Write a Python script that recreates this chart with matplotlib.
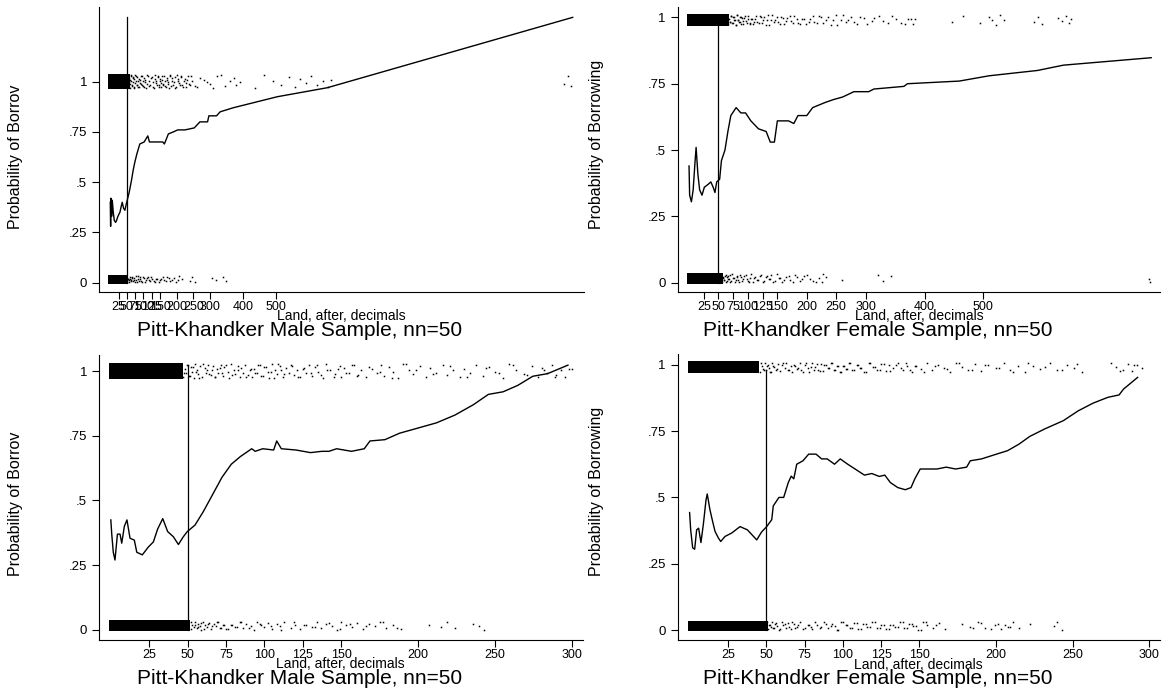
import matplotlib
matplotlib.use("Agg")
from matplotlib import pyplot as plt

plt.rcParams['font.family'] = ['Liberation Sans', 'DejaVu Sans']

W, H = 1163, 692

# ---------------- data ----------------
# top-left: male sample, full land range
tl_x = [0, 1, 2, 4, 6, 9, 12, 16, 19, 23, 29, 33, 36, 40, 44, 48, 51, 57, 64, 69,
        74, 80, 89, 102, 113, 118, 125, 140, 158, 163, 175, 190, 203, 225, 253, 270,
        293, 297, 320, 331, 370, 503, 654, 1393]
tl_y = [0.40, 0.28, 0.42, 0.33, 0.41, 0.35, 0.31, 0.30, 0.31, 0.33, 0.35, 0.38, 0.40,
        0.37, 0.36, 0.39, 0.41, 0.45, 0.51, 0.56, 0.60, 0.64, 0.69, 0.70, 0.73, 0.70,
        0.70, 0.70, 0.70, 0.69, 0.74, 0.75, 0.76, 0.76, 0.77, 0.80, 0.80, 0.83, 0.83,
        0.85, 0.87, 0.925, 0.97, 1.32]
tl_ones_dense = [0, 6, 12, 18, 24, 30, 36, 42, 48, 54]
tl_ones = [56, 58, 60, 62, 64, 67, 69, 71, 74, 76, 79, 81, 84, 87, 90, 93, 96, 99, 102,
           106, 110, 114, 118, 123, 128, 133, 136, 138, 141, 144, 147, 150, 154, 157,
           160, 164, 168, 171, 175, 179, 183, 187, 192, 196, 201, 205, 210, 214, 219,
           224, 229, 235, 240, 246, 262, 281, 300, 322, 345, 372, 392, 437, 462, 489,
           515, 538, 556, 572, 590, 605, 622, 641, 656, 665, 1366, 1380, 1388,
           55, 57, 59, 61, 63, 65, 68, 70, 72, 75, 77, 80, 83, 86, 89, 92, 95, 98, 101,
           104, 108, 112, 116, 120, 125, 130, 135, 139, 143, 146, 149, 152, 156, 159,
           162, 166, 170, 173, 177, 181, 185, 190, 194, 199, 203, 208, 212, 217, 222,
           227, 232, 238, 244, 255, 270, 290, 310, 333, 360, 380]
tl_zeros_dense = [0, 6, 12, 18, 24, 30, 36, 42, 48]
tl_zeros = [51, 54, 57, 60, 63, 66, 70, 74, 78, 82, 86, 91, 96, 101, 107, 113, 120, 127,
            134, 142, 150, 158, 167, 176, 186, 197, 208, 215, 240, 247, 255, 305, 318,
            340, 350,
            52, 55, 58, 61, 65, 68, 72, 76, 80, 84, 89, 94, 99, 104, 110, 117, 124, 131,
            138, 146, 154, 162, 172, 181, 192, 203]

# top-right: female sample, full land range
tr_x = [0, 1, 4, 7, 10, 12, 15, 18, 22, 26, 32, 37, 41, 44, 47, 52, 55, 61, 66, 71,
        80, 88, 96, 105, 118, 131, 138, 145, 150, 169, 178, 185, 200, 210, 232, 245,
        261, 280, 305, 314, 365, 371, 459, 510, 592, 636, 785]
tr_y = [0.44, 0.33, 0.305, 0.35, 0.45, 0.51, 0.41, 0.35, 0.33, 0.36, 0.37, 0.38, 0.36,
        0.34, 0.38, 0.39, 0.46, 0.50, 0.57, 0.63, 0.66, 0.64, 0.64, 0.61, 0.58, 0.57,
        0.53, 0.53, 0.61, 0.61, 0.60, 0.63, 0.63, 0.66, 0.68, 0.69, 0.70, 0.72, 0.72,
        0.73, 0.74, 0.75, 0.76, 0.78, 0.80, 0.82, 0.848]
tr_ones_dense = [0, 4, 8, 12, 16, 20, 24, 28, 32, 36, 40, 44, 48, 52, 56, 60, 64]
tr_ones = [66, 68, 70, 72, 74, 76, 78, 80, 82, 84, 86, 88, 91, 94, 97, 100, 103, 106,
           109, 112, 116, 120, 124, 128, 132, 136, 141, 146, 151, 156, 161, 167, 173,
           179, 185, 192, 199, 206, 213, 220, 228, 236, 244, 252, 261, 270, 280, 291,
           302, 315, 330, 345, 360, 372, 380, 384, 447, 466, 494, 509, 515, 522, 528,
           535, 586, 592, 599, 627, 633, 640, 645, 649,
           65, 67, 69, 71, 73, 75, 77, 79, 81, 83, 85, 87, 89, 90, 92, 95, 98, 101, 104,
           107, 110, 114, 118, 122, 126, 130, 134, 139, 144, 149, 154, 159, 165, 171,
           177, 183, 189, 196, 203, 210, 217, 225, 233, 241, 249, 258, 266, 275, 286,
           297, 310, 322, 338, 352, 366, 377]
tr_zeros_dense = [0, 4, 8, 12, 16, 20, 24, 28, 32, 36, 40, 44, 48, 52, 55]
tr_zeros = [56, 58, 60, 62, 64, 66, 68, 70, 73, 76, 79, 82, 85, 88, 92, 96, 100, 104,
            108, 112, 117, 122, 127, 132, 137, 143, 149, 155, 162, 169, 176, 184, 192,
            200, 210, 220, 226, 232, 260, 321, 330, 343, 782, 783,
            55, 57, 59, 61, 63, 65, 67, 69, 72, 75, 78, 81, 84, 87, 90, 94, 98, 102,
            106, 110, 115, 120, 125, 130, 135, 140, 146, 152, 158, 165, 172, 180, 188,
            196, 205, 215, 228]

# bottom-left: male sample, land up to 300
bl_x = [0, 0.6, 1.6, 2.7, 4.3, 6, 7.1, 8.8, 10.5, 12.5, 15.3, 16.9, 20.5, 24.4, 27.7,
        30.5, 33.8, 37, 40.7, 44, 47.2, 49.8, 54.8, 60.2, 66, 72.4, 78.4, 84.4, 91.7,
        94, 98.9, 106, 108, 111, 120.6, 130, 137.4, 142, 147, 156.7, 165, 168.7, 178.4,
        188, 200, 212, 224, 236, 245.8, 255.4, 265, 274.7, 284.3, 297.6]
bl_y = [0.425, 0.37, 0.30, 0.27, 0.37, 0.37, 0.335, 0.40, 0.425, 0.354, 0.347, 0.30,
        0.29, 0.32, 0.34, 0.39, 0.43, 0.38, 0.36, 0.33, 0.36, 0.38, 0.405, 0.457, 0.52,
        0.59, 0.64, 0.67, 0.70, 0.69, 0.70, 0.695, 0.73, 0.70, 0.695, 0.685, 0.69, 0.69,
        0.70, 0.69, 0.70, 0.73, 0.735, 0.76, 0.78, 0.80, 0.83, 0.87, 0.91, 0.92, 0.945,
        0.98, 0.99, 1.023]
bl_ones_dense = [0, 2, 4, 6, 8, 10, 12, 14, 16, 18, 20, 22, 24, 26, 28, 30, 32, 34, 36,
                 38, 40, 42, 44, 46]
bl_ones = [47, 48, 49, 50, 51, 52, 53, 54, 55, 56, 57, 58, 59.5, 61, 62, 63.5, 65, 66,
           67.5, 69, 70, 71.5, 73, 74, 76, 77, 78.5, 80, 81, 82.5, 84, 85, 86, 87.5, 89,
           90.5, 92, 93, 95, 97, 98, 100, 102, 103, 105, 107, 108, 110, 112, 114, 116,
           117, 119, 121, 123, 125, 127, 129, 131, 133, 135, 138, 140, 143, 146, 149,
           150, 152, 155, 158, 161, 163, 166, 170, 173, 176, 178, 181, 184, 187, 190,
           194, 197, 201, 205, 208, 212, 216, 219, 223, 227, 230, 234, 238, 242, 246,
           250, 255, 259, 264, 269, 274, 278, 281, 284, 287, 290, 293, 296, 300,
           47.5, 49.5, 51.5, 53.5, 55.5, 57.5, 60, 62.5, 64, 66.5, 68, 71, 72.5, 75, 79,
           83, 88, 91, 94, 96, 99, 101, 104, 106, 109, 111, 113, 118, 122, 126, 130,
           134, 137, 141, 145, 148, 153, 157, 160, 168, 175, 183, 192, 199, 210, 221,
           232, 244, 253, 262, 271, 282, 289, 298]
bl_zeros_dense = [0, 2, 4, 6, 8, 10, 12, 14, 16, 18, 20, 22, 24, 26, 28, 30, 32, 34, 36,
                  38, 40, 42, 44, 46, 48, 50]
bl_zeros = [52, 53, 54, 55, 56, 57, 58, 59, 60, 61, 62.5, 64, 65, 67, 68.5, 70, 72, 74,
            76, 79, 82, 84, 86, 88, 91, 93, 95, 98, 100, 102, 105, 108, 110, 113, 117,
            120, 123, 127, 131, 134, 137, 140, 144, 147, 150, 153, 157, 160, 164, 168,
            172, 175, 179, 184, 189, 207, 215, 219, 224, 236, 240, 243,
            52.5, 54.5, 56.5, 58.5, 60.5, 63, 66, 69, 71, 73, 75, 78, 81, 85, 90, 97,
            104, 111, 119, 126, 133, 142, 149, 156, 166, 177, 186]

# bottom-right: female sample, land up to 300
br_x = [0, 0.7, 2, 3.3, 4.6, 5.9, 7.4, 9, 10.7, 11.5, 13.3, 15, 16.6, 18.8, 20.3, 23.1,
        27.5, 32.9, 37.7, 43.8, 47, 50.3, 53.6, 54.6, 58.3, 61.4, 64.4, 66.3, 68, 69.9,
        74, 77.7, 82.5, 86.2, 89.8, 94.6, 98.3, 103.2, 108, 114.1, 118.9, 123.8, 127.4,
        131, 135.9, 140.8, 144.5, 146.9, 150.5, 161.4, 167.5, 173.6, 180.8, 183.2,
        190.5, 200.3, 207.5, 214.8, 222.1, 231.8, 243.9, 253.6, 263.3, 273, 280.3,
        283.2, 292.4]
br_y = [0.443, 0.378, 0.31, 0.305, 0.378, 0.384, 0.33, 0.40, 0.49, 0.513, 0.453, 0.41,
        0.372, 0.347, 0.334, 0.353, 0.366, 0.39, 0.378, 0.34, 0.37, 0.39, 0.416, 0.468,
        0.50, 0.50, 0.556, 0.58, 0.57, 0.625, 0.638, 0.663, 0.663, 0.645, 0.645, 0.625,
        0.645, 0.625, 0.607, 0.584, 0.59, 0.579, 0.584, 0.556, 0.537, 0.529, 0.537,
        0.569, 0.607, 0.607, 0.614, 0.607, 0.614, 0.638, 0.645, 0.663, 0.676, 0.70,
        0.73, 0.758, 0.789, 0.826, 0.855, 0.877, 0.886, 0.908, 0.952]
br_ones_dense = [0, 2, 4, 6, 8, 10, 12, 14, 16, 18, 20, 22, 24, 26, 28, 30, 32, 34, 36,
                 38, 40, 42, 44]
br_ones = [46, 47, 48, 49, 50, 51, 52, 53, 54, 55, 56.5, 58, 59, 60.5, 62, 63, 64.5, 66,
           67, 69, 70, 72, 73, 75, 77, 78, 80, 82, 84, 86, 87, 89, 91, 93, 95, 97, 99,
           101, 103, 105, 107, 110, 112, 115, 117, 120, 122, 125, 128, 130, 133, 136,
           139, 142, 145, 148, 151, 155, 158, 162, 166, 170, 174, 178, 182, 186, 190,
           195, 200, 205, 209, 214, 219, 224, 229, 235, 240, 246, 251, 256, 275, 278,
           283, 286, 289, 292, 295,
           46.5, 48.5, 50.5, 52.5, 54.5, 57, 61, 65, 68, 71, 74, 76, 79, 81, 83, 85, 88,
           90, 92, 94, 96, 98, 100, 102, 104, 106, 109, 111, 114, 118, 121, 124, 127,
           131, 135, 138, 141, 144, 147, 153, 160, 168, 176, 184, 193, 202, 211, 221,
           232, 243, 253, 281, 290]
br_zeros_dense = [0, 2, 4, 6, 8, 10, 12, 14, 16, 18, 20, 22, 24, 26, 28, 30, 32, 34, 36,
                  38, 40, 42, 44, 46, 48, 50]
br_zeros = [51, 52, 53, 54, 55, 56, 57, 58.5, 60, 61, 63, 64.5, 66, 68, 70, 72, 75, 78,
            80, 83, 86, 88, 90, 93, 95, 97, 100, 102, 105, 107, 110, 113, 116, 119, 122,
            125, 128, 131, 134, 137, 140, 143, 146, 149, 152, 155, 159, 163, 167, 178,
            183, 188, 193, 199, 203, 206, 208, 211, 215, 222, 238, 243,
            50.5, 52.5, 54.5, 56.5, 59, 62, 65, 67, 69, 71, 74, 77, 79, 82, 85, 89, 92,
            96, 99, 103, 106, 109, 112, 115, 118, 121, 124, 127, 130, 133, 136, 139, 142,
            145, 148, 151, 154, 161, 185, 190, 197, 201, 209, 240]

# share of the jitter band for each rug point (cycled)
jit = [0.10, 0.62, 0.35, 0.88, 0.21, 0.74, 0.47, 0.03, 0.95, 0.55, 0.29, 0.81, 0.14,
       0.68, 0.40, 0.92, 0.25, 0.58]
dense_levels = [0.12, 0.37, 0.62, 0.87]

top_ticks = [25, 50, 75, 100, 125, 150, 200, 250, 300, 400, 500]
bottom_ticks = [25, 50, 75, 100, 125, 150, 200, 250, 300]
y_ticks = [0, 0.25, 0.5, 0.75, 1]
y_ticklabels = ['0', '.25', '.5', '.75', '1']

fig = plt.figure(figsize=(W / 100, H / 100), dpi=100)


def rug(ax, dense, sparse, lo, hi):
    for lev in dense_levels:
        ax.plot(dense, [lo + lev * (hi - lo)] * len(dense), 's', color='black',
                markersize=2.3, markeredgewidth=0)
    ys = [lo + jit[i % len(jit)] * (hi - lo) for i in range(len(sparse))]
    ax.plot(sparse, ys, 's', color='black', markersize=1.1, markeredgewidth=0)


def panel(box, xlim, ylim, xticks, curve_x, curve_y, ones_d, ones, zeros_d, zeros,
          ones_band, vline_top, ylab, title, ylab_pos, title_pos, xlab_pos):
    left, right, top, bottom = box
    ax = fig.add_axes([left / W, 1 - bottom / H, (right - left) / W, (bottom - top) / H])
    rug(ax, ones_d, ones, ones_band[0], ones_band[1])
    rug(ax, zeros_d, zeros, 0.0, 0.033)
    ax.plot(curve_x, curve_y, color='black', linewidth=1.0)
    ax.plot([50, 50], [0, vline_top], color='black', linewidth=0.9)
    ax.set_xlim(xlim)
    ax.set_ylim(ylim)
    ax.set_xticks(xticks)
    ax.set_xticklabels([str(t) for t in xticks])
    ax.set_yticks(y_ticks)
    ax.set_yticklabels(y_ticklabels)
    for s in ['top', 'right']:
        ax.spines[s].set_visible(False)
    for s in ['left', 'bottom']:
        ax.spines[s].set_linewidth(0.8)
    ax.tick_params(axis='x', direction='out', length=5, width=0.8, labelsize=9, pad=1.5)
    ax.tick_params(axis='y', direction='out', length=5, width=0.8, labelsize=9.5, pad=3.5)
    fig.text(ylab_pos[0] / W, 1 - ylab_pos[1] / H, ylab, rotation=90, ha='center',
             va='bottom', fontsize=11.5)
    fig.text(xlab_pos[0] / W, 1 - xlab_pos[1] / H, 'Land, after, decimals',
             ha='center', va='center', fontsize=10)
    fig.text(title_pos[0] / W, 1 - title_pos[1] / H, title, ha='center', va='center',
             fontsize=15)
    return ax


panel((99, 584, 7.3, 292.3), (-34, 1427), (-0.048, 1.370), top_ticks, tl_x, tl_y,
      tl_ones_dense, tl_ones, tl_zeros_dense, tl_zeros, (0.965, 1.035), 1.32,
      'Probability of Borrov', 'Pitt-Khandker Male Sample, nn=50',
      (16, 229), (300, 331), (341, 316.5))
panel((677.5, 1160, 7.3, 292.3), (-19.6, 800), (-0.036, 1.038), top_ticks, tr_x, tr_y,
      tr_ones_dense, tr_ones, tr_zeros_dense, tr_zeros, (0.97, 1.01), 0.99,
      'Probability of Borrowing', 'Pitt-Khandker Female Sample, nn=50',
      (597, 229), (878, 331), (919, 316.5))
panel((99, 583, 355.3, 640), (-7.7, 307.4), (-0.039, 1.061), bottom_ticks, bl_x, bl_y,
      bl_ones_dense, bl_ones, bl_zeros_dense, bl_zeros, (0.97, 1.03), 1.02,
      'Probability of Borrov', 'Pitt-Khandker Male Sample, nn=50',
      (16, 576), (300, 678), (340, 664))
panel((677.5, 1160, 354.3, 640), (-7.9, 307), (-0.037, 1.039), bottom_ticks, br_x, br_y,
      br_ones_dense, br_ones, br_zeros_dense, br_zeros, (0.97, 1.01), 0.98,
      'Probability of Borrowing', 'Pitt-Khandker Female Sample, nn=50',
      (597, 576), (878, 678), (918, 665))

fig.savefig('out.png', dpi=100)
